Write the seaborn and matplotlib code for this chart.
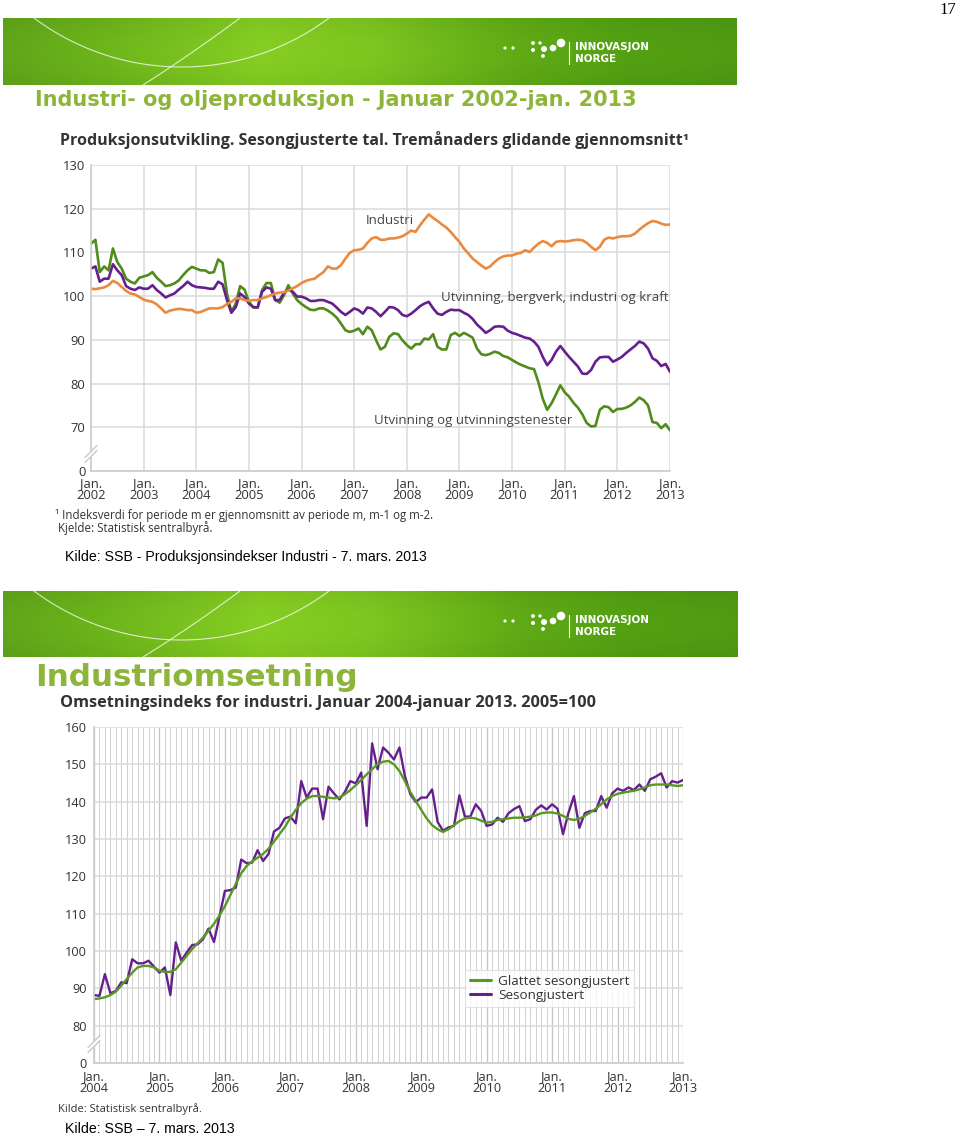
import numpy as np
import pandas as pd
import matplotlib
matplotlib.use("Agg")
import matplotlib.pyplot as plt
import seaborn as sns
from matplotlib.lines import Line2D
from matplotlib.patches import Circle, Polygon

# ---------------- Chart 1 data: monthly, Jan 2002 - Jan 2013 ----------------
prod_series = ["Utvinning og utvinningstenester",
               "Utvinning, bergverk, industri og kraft",
               "Industri"]
utvinning = [
    112.0, 112.9, 105.5, 106.8, 105.9, 110.9, 107.8, 106.3, 104.0, 103.3, 102.9, 104.2,
    104.5, 104.8, 105.5, 104.2, 103.3, 102.3, 102.5, 102.9, 103.6, 104.8, 105.9, 106.7,
    106.3, 105.9, 105.9, 105.3, 105.5, 108.4, 107.6, 100.6, 96.4, 98.3, 102.3, 101.5,
    98.7, 97.4, 97.4, 101.4, 103.0, 103.0, 99.1, 98.5, 100.2, 102.5, 100.6, 99.1,
    98.2, 97.5, 96.9, 96.8, 97.2, 97.2, 96.7, 96.0, 95.1, 93.7, 92.2, 91.8,
    92.1, 92.6, 91.3, 93.0, 92.2, 89.9, 87.8, 88.4, 90.7, 91.5, 91.3, 89.9,
    88.8, 88.0, 89.0, 89.0, 90.3, 90.1, 91.3, 88.4, 87.8, 87.8, 91.1, 91.6,
    90.9, 91.6, 91.1, 90.5, 88.0, 86.7, 86.5, 86.8, 87.3, 87.0, 86.3, 86.0,
    85.4, 84.8, 84.3, 83.9, 83.5, 83.3, 80.3, 76.5, 74.0, 75.5, 77.5, 79.6,
    78.0, 77.0, 75.6, 74.5, 73.0, 71.0, 70.2, 70.3, 74.0, 74.8, 74.6, 73.5,
    74.2, 74.2, 74.5, 75.0, 75.8, 76.8, 76.2, 75.0, 71.2, 71.0, 69.8, 70.7,
    69.3]
totalt = [
    106.3, 106.8, 103.3, 104.0, 104.0, 107.3, 105.9, 104.8, 102.3, 101.7, 101.4, 102.0,
    101.7, 101.7, 102.5, 101.4, 100.6, 99.7, 100.2, 100.6, 101.5, 102.3, 103.3, 102.5,
    102.1, 102.0, 101.9, 101.7, 101.7, 103.3, 102.7, 99.1, 96.2, 97.5, 100.6, 99.8,
    98.3, 97.5, 97.4, 101.0, 102.0, 101.7, 99.1, 99.1, 100.8, 101.5, 101.0, 99.9,
    99.9, 99.5, 98.9, 98.9, 99.1, 99.1, 98.7, 98.3, 97.4, 96.4, 95.7, 96.4,
    97.2, 96.8, 96.0, 97.4, 97.2, 96.4, 95.4, 96.4, 97.5, 97.4, 96.8, 95.7,
    95.4, 96.0, 96.8, 97.7, 98.3, 98.7, 97.2, 96.0, 95.7, 96.4, 96.9, 96.8,
    96.8, 96.2, 95.7, 94.8, 93.5, 92.6, 91.6, 92.2, 93.0, 93.1, 93.0, 92.1,
    91.6, 91.3, 90.9, 90.5, 90.3, 89.6, 88.4, 86.1, 84.2, 85.4, 87.3, 88.6,
    87.3, 86.1, 85.0, 83.9, 82.3, 82.2, 83.1, 85.0, 86.0, 86.1, 86.1, 85.0,
    85.5, 86.1, 87.0, 87.8, 88.6, 89.6, 89.2, 88.0, 85.8, 85.2, 84.0, 84.5,
    82.7]
industri = [
    101.7, 101.6, 101.8, 102.0, 102.5, 103.5, 103.0, 102.1, 101.2, 100.6, 100.4, 99.8,
    99.2, 98.9, 98.7, 98.1, 97.2, 96.2, 96.7, 96.9, 97.1, 97.0, 96.8, 96.8,
    96.2, 96.4, 96.8, 97.2, 97.2, 97.2, 97.5, 98.2, 98.7, 99.5, 99.5, 99.1,
    98.9, 99.1, 99.1, 99.5, 99.8, 100.2, 100.6, 100.8, 100.9, 101.3, 101.8, 102.3,
    103.0, 103.5, 103.8, 104.0, 104.8, 105.5, 106.8, 106.3, 106.3, 107.1, 108.6, 109.9,
    110.5, 110.6, 110.9, 112.2, 113.2, 113.5, 112.9, 112.9, 113.2, 113.2, 113.4, 113.7,
    114.3, 115.0, 114.7, 116.2, 117.5, 118.7, 117.9, 117.2, 116.4, 115.7, 114.7, 113.5,
    112.4, 110.9, 109.8, 108.6, 107.8, 107.0, 106.3, 106.8, 107.8, 108.6, 109.1, 109.3,
    109.3, 109.7, 109.9, 110.5, 110.1, 111.1, 112.0, 112.6, 112.2, 111.4, 112.4, 112.6,
    112.5, 112.6, 112.8, 112.9, 112.8, 112.2, 111.3, 110.5, 111.3, 112.9, 113.4, 113.2,
    113.5, 113.7, 113.7, 113.8, 114.3, 115.2, 116.0, 116.7, 117.2, 117.0, 116.6, 116.3,
    116.4]
prod_years = list(range(2002, 2014))
prod_ytick_values = [60, 70, 80, 90, 100, 110, 120, 130]
prod_ytick_labels = ["0", "70", "80", "90", "100", "110", "120", "130"]

# ---------------- Chart 2 data: monthly, Jan 2004 - Jan 2013 ----------------
turnover_series = ["Glattet sesongjustert", "Sesongjustert"]
glattet = [
    87.1, 87.3, 87.6, 88.2, 89.1, 90.7, 92.5, 94.2, 95.6, 96.0, 96.0, 95.6,
    94.7, 94.4, 94.4, 95.1, 96.9, 98.7, 100.5, 102.1, 103.6, 105.4, 107.3, 109.5,
    112.0, 115.0, 118.0, 120.8, 122.8, 124.0, 125.0, 126.0, 127.4, 129.3, 131.3, 133.2,
    135.7, 137.8, 139.6, 140.8, 141.5, 141.5, 141.3, 141.1, 140.9, 141.1, 142.0, 143.1,
    144.4, 145.8, 147.3, 148.7, 150.0, 150.7, 150.9, 150.0, 148.2, 145.5, 142.6, 140.2,
    137.8, 135.5, 133.7, 132.6, 131.9, 132.6, 133.7, 134.8, 135.5, 135.7, 135.5, 134.9,
    134.4, 134.6, 135.1, 135.3, 135.5, 135.7, 135.7, 135.8, 136.0, 136.3, 136.9, 137.1,
    137.1, 136.8, 136.2, 135.4, 135.1, 135.4, 136.2, 137.1, 138.1, 139.3, 140.6, 141.5,
    142.1, 142.4, 142.7, 142.9, 143.3, 143.8, 144.4, 144.6, 144.6, 144.6, 144.4, 144.2,
    144.4]
sesongjustert = [
    88.2, 88.0, 93.8, 88.7, 89.3, 91.6, 91.4, 97.8, 96.7, 96.7, 97.4, 95.8,
    94.2, 95.6, 88.2, 102.3, 97.4, 99.6, 101.6, 101.8, 103.2, 106.0, 102.4, 109.2,
    116.1, 116.3, 117.0, 124.5, 123.5, 123.7, 127.0, 124.1, 126.0, 132.0, 133.0, 135.5,
    136.0, 134.2, 145.5, 141.1, 143.5, 143.5, 135.3, 144.0, 142.2, 140.6, 142.6, 145.5,
    144.9, 147.8, 133.5, 155.6, 148.7, 154.5, 153.1, 151.3, 154.5, 146.9, 142.0, 139.9,
    141.1, 141.1, 143.3, 134.6, 132.2, 133.1, 133.5, 141.7, 136.0, 136.0, 139.3, 137.5,
    133.5, 133.9, 135.7, 134.6, 136.9, 138.0, 138.8, 134.8, 135.3, 137.8, 139.0, 137.9,
    139.3, 138.1, 131.3, 137.0, 141.5, 133.0, 136.9, 137.5, 137.5, 141.5, 138.4, 142.2,
    143.5, 142.9, 143.8, 143.1, 144.6, 142.9, 146.0, 146.7, 147.6, 143.8, 145.5, 145.1,
    145.8]
turn_years = list(range(2004, 2014))
turn_ytick_values = [70, 80, 90, 100, 110, 120, 130, 140, 150, 160]
turn_ytick_labels = ["0", "80", "90", "100", "110", "120", "130", "140", "150", "160"]

# ---------------- styling ----------------
W, H = 960, 1135
GREEN_LINE = "#4f8c1c"
GREEN_LINE2 = "#579a22"
PURPLE_LINE = "#65208e"
ORANGE_LINE = "#ea8a3f"
TITLE_GREEN = "#8db53a"
TEXT = "#333333"
GRID = "#dadada"

sns.set_style("white")
plt.rcParams["font.family"] = ["Open Sans", "DejaVu Sans"]

fig = plt.figure(figsize=(W / 100, H / 100), dpi=100)


def px_axes(left, top, right, bottom):
    return fig.add_axes([left / W, 1 - bottom / H, (right - left) / W, (bottom - top) / H])


def P(x, y):
    return (x / W, 1 - y / H)


# logo dot layout relative to the banner's top-left corner (x, y, radius)
LOGO_DOTS = [(502, 30, 0.9), (510, 30, 0.9), (530, 25, 1.2), (537, 25, 1.0),
             (530, 32, 1.3), (541, 31, 2.3), (550, 30, 2.6), (558, 25, 3.6),
             (540, 38, 1.2)]


def banner(top, bottom, left=3, right=737):
    ax = px_axes(left, top, right, bottom)
    w, h = right - left, bottom - top
    xs = np.linspace(0, 1, 600)
    stops = [0.0, 0.12, 0.35, 0.5, 0.7, 0.85, 1.0]
    r = [0.36, 0.40, 0.50, 0.47, 0.36, 0.31, 0.30]
    g = [0.62, 0.67, 0.77, 0.74, 0.64, 0.60, 0.58]
    b = [0.10, 0.10, 0.13, 0.12, 0.08, 0.07, 0.07]
    row = np.stack([np.interp(xs, stops, c) for c in (r, g, b)], axis=-1)
    ys = np.linspace(0, 1, 60)[:, None, None]
    shade = 1.0 + 0.05 * np.sin(np.pi * ys)
    img = np.clip(row[None, :, :] * shade, 0, 1)
    ax.imshow(img, extent=(0, w, h, 0), aspect="auto", interpolation="bilinear")
    R, cx, cy = 246.5, 178.5, -197.5
    t = np.linspace(0, 2 * np.pi, 720)
    ax.plot(cx + R * np.cos(t), cy + R * np.sin(t), color="white", lw=0.8, alpha=0.75)
    s = np.linspace(0, 1, 60)[:, None]
    p0, p1, p2 = np.array([140, h]), np.array([190, 35]), np.array([237, 0])
    pts = (1 - s) ** 2 * p0 + 2 * (1 - s) * s * p1 + s ** 2 * p2
    ax.plot(pts[:, 0], pts[:, 1], color="white", lw=0.8, alpha=0.75)
    for (x, y, rr) in LOGO_DOTS:
        ax.add_patch(Circle((x, y), rr, color="white"))
    ax.plot([566, 566], [24, 46], color="white", lw=0.8)
    ax.text(572, 29, "INNOVASJON", color="white", fontsize=7.5,
            fontweight="bold", va="center", ha="left", family="DejaVu Sans")
    ax.text(572, 41, "NORGE", color="white", fontsize=7.5,
            fontweight="bold", va="center", ha="left", family="DejaVu Sans")
    ax.set_xlim(0, w)
    ax.set_ylim(h, 0)
    ax.axis("off")


def axis_break(xc, yc):
    fig.add_artist(Polygon([P(xc - 7, yc + 4), P(xc + 5, yc - 8), P(xc + 7, yc - 4), P(xc - 5, yc + 8)],
                           closed=True, transform=fig.transFigure, facecolor="white",
                           edgecolor="none", zorder=10))
    for d in (-2.5, 2.5):
        a, b = P(xc - 6, yc + 6 + d), P(xc + 6, yc - 6 + d)
        fig.add_artist(Line2D([a[0], b[0]], [a[1], b[1]],
                              transform=fig.transFigure, color="#c8c8c8", lw=1.0, zorder=11))


def style_axes(ax, n, years, yvals, ylabels, fs, ypad, xpad):
    ax.set_xlim(0, n - 1)
    ax.set_ylim(yvals[0], yvals[-1])
    ax.set_xticks(np.arange(0, n, 12))
    ax.set_xticklabels([f"Jan.\n{y}" for y in years])
    ax.set_yticks(yvals)
    ax.set_yticklabels(ylabels)
    ax.tick_params(axis="both", length=0, labelsize=fs, colors=TEXT)
    ax.tick_params(axis="y", pad=ypad)
    ax.tick_params(axis="x", pad=xpad)
    for lab in ax.get_xticklabels():
        lab.set_linespacing(0.92)
    ax.set_xlabel("")
    ax.set_ylabel("")
    for sp in ("top", "right"):
        ax.spines[sp].set_visible(False)
    for sp in ("left", "bottom"):
        ax.spines[sp].set_color("#cccccc")
        ax.spines[sp].set_linewidth(1.2)
    ax.set_axisbelow(True)


# ---------------- page furniture ----------------
fig.text(*P(948, 10), "17", ha="center", va="center", fontsize=12, family="Liberation Serif", color="black")
banner(18, 85)
fig.text(*P(35, 100), "Industri- og oljeproduksjon - Januar 2002-jan. 2013", ha="left", va="center",
         fontsize=15.0, fontweight="bold", color=TITLE_GREEN, family="DejaVu Sans")
fig.text(*P(60, 140), "Produksjonsutvikling. Sesongjusterte tal. Tremånaders glidande gjennomsnitt\u00b9",
         ha="left", va="center", fontsize=11.5, fontweight="bold", color=TEXT)

# ---------------- Chart 1 ----------------
ax1 = px_axes(91, 165, 670, 471)
n1 = len(industri)
df1 = pd.DataFrame({
    "m": np.tile(np.arange(n1), 3),
    "v": utvinning + totalt + industri,
    "serie": np.repeat(prod_series, n1),
})
sns.lineplot(data=df1, x="m", y="v", hue="serie", hue_order=prod_series,
             palette=[GREEN_LINE, PURPLE_LINE, ORANGE_LINE], linewidth=1.9,
             legend=False, errorbar=None, ax=ax1)
style_axes(ax1, n1, prod_years, prod_ytick_values, prod_ytick_labels, 9.4, 4, 4.5)
ax1.grid(True, color=GRID, lw=1.1)
ax1.text(68.2, 117.2, "Industri", ha="center", va="center", fontsize=9.5, color="#444444")
ax1.text(79.8, 99.6, "Utvinning, bergverk, industri og kraft", ha="left", va="center", fontsize=9.5, color="#444444")
ax1.text(64.5, 71.6, "Utvinning og utvinningstenester", ha="left", va="center", fontsize=9.5, color="#444444")
axis_break(91, 454)

fig.text(*P(55, 515), "\u00b9 Indeksverdi for periode m er gjennomsnitt av periode m, m-1 og m-2.",
         ha="left", va="center", fontsize=8.3, color=TEXT)
fig.text(*P(58, 528), "Kjelde: Statistisk sentralbyrå.", ha="left", va="center", fontsize=8.3, color=TEXT)
fig.text(*P(65, 557), "Kilde: SSB - Produksjonsindekser Industri - 7. mars. 2013", ha="left", va="center",
         fontsize=10.2, family="Liberation Sans", color="black")

# ---------------- second slide ----------------
banner(591, 657, right=738)
fig.text(*P(35, 678), "Industriomsetning", ha="left", va="center", fontsize=22.3,
         fontweight="bold", color=TITLE_GREEN, family="DejaVu Sans")
fig.text(*P(60, 703), "Omsetningsindeks for industri. Januar 2004-januar 2013. 2005=100",
         ha="left", va="center", fontsize=11.7, fontweight="bold", color=TEXT)

ax2 = px_axes(94, 727, 683, 1063)
n2 = len(glattet)
df2 = pd.DataFrame({
    "m": np.tile(np.arange(n2), 2),
    "v": sesongjustert + glattet,
    "serie": np.repeat([turnover_series[1], turnover_series[0]], n2),
})
sns.lineplot(data=df2, x="m", y="v", hue="serie",
             hue_order=[turnover_series[1], turnover_series[0]],
             palette=[PURPLE_LINE, GREEN_LINE2], linewidth=1.7,
             legend=False, errorbar=None, ax=ax2)
style_axes(ax2, n2, turn_years, turn_ytick_values, turn_ytick_labels, 9.2, 5, 5)
ax2.set_xticks(np.arange(0, n2), minor=True)
ax2.tick_params(axis="x", which="minor", length=0)
ax2.grid(True, axis="y", color=GRID, lw=1.1)
ax2.grid(True, axis="x", which="major", color="#c4c4c4", lw=0.9)
ax2.grid(True, axis="x", which="minor", color="#d0d0d0", lw=0.7)
axis_break(94, 1044)
handles = [Line2D([], [], color=GREEN_LINE2, lw=2.2), Line2D([], [], color=PURPLE_LINE, lw=2.2)]
leg = ax2.legend(handles, turnover_series, loc="upper left",
                 bbox_to_anchor=((465 - 94) / 589, (1063 - 970) / 336), borderaxespad=0,
                 frameon=True, fancybox=False, edgecolor="#dddddd", fontsize=9.7,
                 handlelength=1.6, handletextpad=0.5, labelspacing=0.1, borderpad=0.35)
leg.get_frame().set_linewidth(0.8)
for t_ in leg.get_texts():
    t_.set_color(TEXT)

fig.text(*P(58, 1109), "Kilde: Statistisk sentralbyrå.", ha="left", va="center", fontsize=8.0, color=TEXT)
fig.text(*P(65, 1129), "Kilde: SSB \u2013 7. mars. 2013", ha="left", va="center",
         fontsize=10.2, family="Liberation Sans", color="black")

fig.savefig("out.png", dpi=100)
